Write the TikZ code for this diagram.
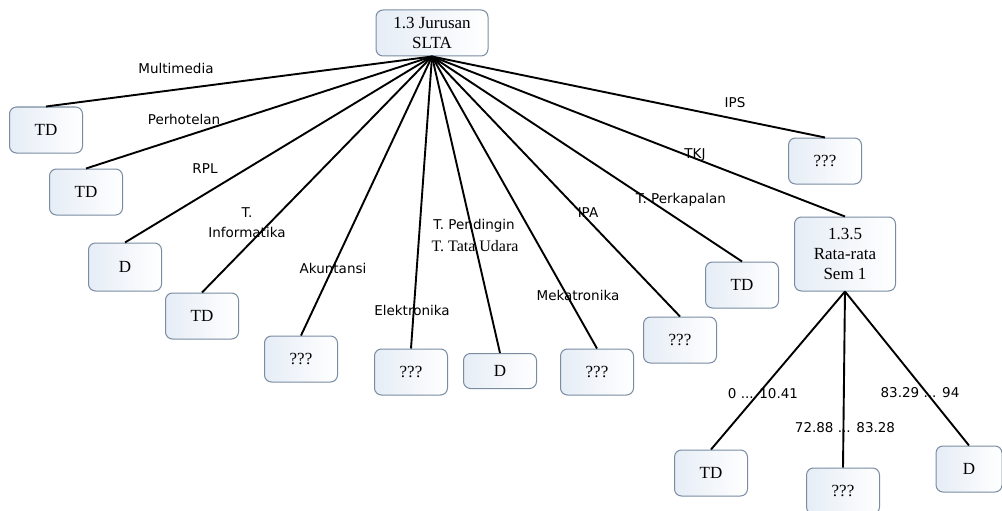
\documentclass[tikz,border=0pt]{standalone}
\usepackage{fontspec}
\setmainfont{Liberation Serif}
\newfontfamily\lblfont{DejaVu Sans}
\definecolor{boxedge}{HTML}{7A8CA2}
\definecolor{boxfill}{HTML}{E6EDF6}
\begin{document}
\begin{tikzpicture}[x=1pt,y=-1pt,
  box/.style={draw=boxedge, rounded corners=7pt, line width=1pt,
    left color=boxfill, right color=white,
    minimum width=73pt, minimum height=46pt, inner sep=0pt,
    font=\fontsize{17}{20}\selectfont, align=center},
  lbl/.style={font=\lblfont\fontsize{13.5}{20}\selectfont, inner sep=0pt, align=center},
  srflbl/.style={font=\fontsize{16}{20}\selectfont, inner sep=0pt},
  link/.style={line width=1.9pt}]
\useasboundingbox (0,0) rectangle (1002,511);

% root and first level
\node[box, minimum width=112pt] (root) at (432,33) {1.3 Jurusan\\SLTA};
\node[box] (n1) at (46,130) {TD};
\node[box] (n2) at (86,192) {TD};
\node[box, minimum height=48pt] (n3) at (125,267) {D};
\node[box] (n4) at (202,316) {TD};
\node[box] (n5) at (301,359) {???};
\node[box] (n6) at (411,372) {???};
\node[box, minimum height=35pt] (n7) at (500,371) {D};
\node[box] (n8) at (597,372) {???};
\node[box] (n9) at (680,340) {???};
\node[box] (n10) at (742,285) {TD};
\node[box] (n11) at (825,161) {???};
\node[box, minimum width=101pt, minimum height=74pt] (r135) at (845,254) {1.3.5\\Rata-rata\\Sem 1};

% second level under 1.3.5
\node[box] (b1) at (711,473) {TD};
\node[box] (b2) at (843,491) {???};
\node[box, minimum width=66pt] (b3) at (969,469) {D};

% connectors
\foreach \c in {n1,n2,n3,n4,n5,n6,n7,n8,n9,n10,n11,r135}
  \draw[link] (root.south) -- (\c.north);
\foreach \c in {b1,b2,b3}
  \draw[link] (r135.south) -- (\c.north);

% branch labels
\node[lbl] (l1) at (176,68) {Multimedia};
\node[lbl] (l2) at (184,119) {Perhotelan};
\node[lbl] (l3) at (205,169) {RPL};
\node[lbl] (l4) at (247,223) {T.\\Informatika};
\node[lbl] (l5) at (333,268) {Akuntansi};
\node[lbl] (l6) at (412,310) {Elektronika};
\node[lbl] (l7a) at (474,226) {T. Pendingin};
\node[srflbl] (l7b) at (475,246) {T. Tata Udara};
\node[lbl] (l8) at (578,295) {Mekatronika};
\node[lbl] (l9) at (588,213) {IPA};
\node[lbl] (l10) at (681,200) {T. Perkapalan};
\node[lbl] (l11) at (735,103) {IPS};
\node[lbl] (l12) at (695,155) {TKJ};
\node[lbl] (l13) at (763,394) {0 ... 10.41};
\node[lbl] (l14) at (845,428) {72.88 ... 83.28};
\node[lbl] (l15) at (920,393) {83.29 ... 94};
\end{tikzpicture}
\end{document}
